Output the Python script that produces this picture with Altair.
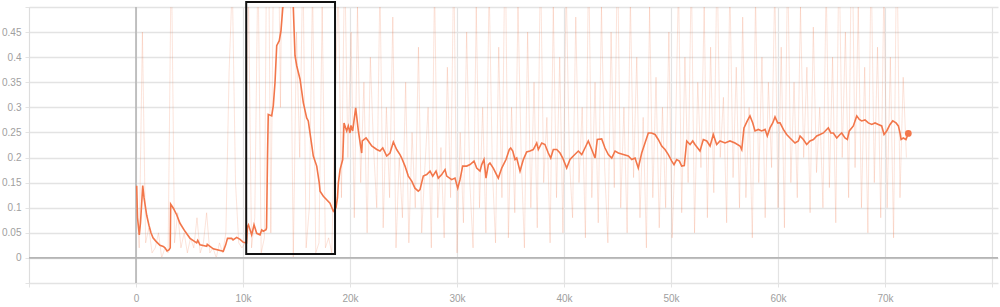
import altair as alt
import pandas as pd

# ---- data ----
smooth_k = [0.065, 0.14, 0.31, 0.42, 0.63, 0.75, 1.00, 1.21, 1.40, 1.59, 1.87, 2.24, 2.55, 2.71, 2.90, 3.08, 3.20,
            3.24, 3.49, 3.80, 4.11, 4.58, 5.05, 5.67, 5.77, 5.98, 6.61, 6.66, 7.22, 8.16, 8.38, 8.55, 8.94, 9.07,
            9.41, 9.72, 10.03, 10.33, 10.42, 10.51, 10.81, 11.03, 11.28, 11.59, 11.75, 11.90, 12.15, 12.20, 12.29,
            12.36, 12.68, 12.83, 12.99, 13.15, 13.39, 13.55, 13.71, 14.02, 14.39, 14.70, 14.86, 15.02, 15.33, 15.64,
            15.95, 16.10, 16.26, 16.57, 16.89, 17.13, 17.20, 17.51, 17.82, 18.13, 18.44, 18.69, 18.83, 18.91, 19.07,
            19.32, 19.44, 19.69, 19.84, 20.00, 20.09, 20.25, 20.53, 20.78, 21.09, 21.15, 21.50, 21.71, 22.03, 22.50,
            22.80, 23.06, 23.43, 23.74, 24.05, 24.36, 24.67, 24.83, 25.14, 25.45, 25.77, 26.07, 26.38, 26.54, 26.85,
            27.17, 27.48, 27.73, 28.04, 28.25, 28.57, 28.88, 29.04, 29.50, 29.81, 30.07, 30.28, 30.53, 30.91, 31.22,
            31.59, 31.84, 32.15, 32.31, 32.52, 32.71, 32.93, 33.08, 33.39, 33.86, 34.18, 34.58, 34.89, 35.02, 35.21,
            35.42, 35.58, 35.89, 36.20, 36.51, 36.82, 37.13, 37.45, 37.60, 37.92, 38.22, 38.53, 38.76, 39.00, 39.32,
            39.63, 39.88, 40.25, 40.56, 40.87, 41.34, 41.66, 41.96, 42.27, 42.59, 42.90, 43.11, 43.52, 43.83, 44.14,
            44.46, 44.77, 45.08, 45.54, 46.01, 46.33, 46.64, 46.94, 47.26, 47.57, 47.88, 48.18, 48.51, 48.81, 49.13,
            49.44, 49.75, 50.07, 50.28, 50.53, 50.78, 51.00, 51.24, 51.47, 51.78, 52.03, 52.24, 52.71, 53.02, 53.34,
            53.65, 53.95, 54.27, 54.58, 55.05, 55.51, 55.98, 56.45, 56.61, 56.82, 57.13, 57.38, 57.64, 57.85, 58.16,
            58.48, 58.79, 59.00, 59.25, 59.51, 59.72, 59.97, 60.19, 60.50, 60.81, 61.12, 61.59, 61.90, 62.06, 62.37,
            62.68, 62.99, 63.31, 63.62, 63.93, 64.24, 64.55, 64.70, 64.93, 65.17, 65.49, 65.79, 65.95, 66.26, 66.48,
            66.66, 67.04, 67.36, 67.60, 67.82, 68.13, 68.44, 68.76, 69.07, 69.38, 69.69, 69.91, 70.16, 70.47, 70.72,
            71.03, 71.25, 71.40, 71.50, 71.71, 71.96, 72.18]
smooth_v = [0.144, 0.080, 0.046, 0.070, 0.144, 0.120, 0.085, 0.065, 0.050, 0.040, 0.033, 0.025, 0.023, 0.020, 0.014, 0.016, 0.020,
            0.107, 0.099, 0.086, 0.069, 0.053, 0.039, 0.030, 0.035, 0.026, 0.023, 0.027, 0.018, 0.013, 0.026, 0.039, 0.039, 0.036,
            0.041, 0.037, 0.031, 0.030, 0.062, 0.066, 0.046, 0.066, 0.049, 0.046, 0.056, 0.053, 0.056, 0.060, 0.200,
            0.286, 0.283, 0.303, 0.349, 0.423, 0.433, 0.453, 0.496, 0.550, 0.560, 0.500, 0.403, 0.383, 0.356, 0.309,
            0.279, 0.273, 0.249, 0.203, 0.183, 0.149, 0.133, 0.123, 0.116, 0.109, 0.093, 0.100, 0.120, 0.149, 0.176,
            0.196, 0.269, 0.253, 0.263, 0.249, 0.264, 0.253, 0.299, 0.253, 0.209, 0.233, 0.239, 0.233, 0.223, 0.216,
            0.213, 0.219, 0.203, 0.209, 0.231, 0.216, 0.206, 0.199, 0.183, 0.163, 0.153, 0.139, 0.133, 0.136, 0.163,
            0.166, 0.173, 0.163, 0.173, 0.159, 0.166, 0.176, 0.163, 0.156, 0.159, 0.139, 0.156, 0.183, 0.183, 0.186,
            0.193, 0.179, 0.173, 0.186, 0.196, 0.159, 0.186, 0.189, 0.179, 0.159, 0.179, 0.196, 0.216, 0.219, 0.213,
            0.196, 0.199, 0.173, 0.196, 0.211, 0.213, 0.216, 0.229, 0.216, 0.229, 0.226, 0.209, 0.199, 0.216, 0.216,
            0.209, 0.199, 0.179, 0.196, 0.203, 0.213, 0.206, 0.219, 0.233, 0.216, 0.199, 0.236, 0.237, 0.219, 0.206,
            0.199, 0.213, 0.209, 0.206, 0.203, 0.196, 0.199, 0.179, 0.209, 0.229, 0.249, 0.249, 0.246, 0.236, 0.223,
            0.216, 0.206, 0.193, 0.186, 0.196, 0.193, 0.183, 0.184, 0.233, 0.226, 0.233, 0.226, 0.213, 0.236, 0.233,
            0.223, 0.246, 0.226, 0.233, 0.229, 0.233, 0.229, 0.223, 0.216, 0.259, 0.273, 0.283, 0.269, 0.253, 0.256,
            0.253, 0.256, 0.243, 0.259, 0.269, 0.281, 0.269, 0.269, 0.256, 0.246, 0.239, 0.229, 0.233, 0.243, 0.236,
            0.226, 0.233, 0.236, 0.243, 0.246, 0.249, 0.256, 0.259, 0.249, 0.249, 0.239, 0.246, 0.249, 0.239, 0.236,
            0.253, 0.263, 0.283, 0.276, 0.273, 0.275, 0.269, 0.266, 0.269, 0.266, 0.263, 0.246, 0.253, 0.266, 0.273,
            0.269, 0.263, 0.249, 0.236, 0.239, 0.236, 0.248]

raw_interval = 300  # logging interval (steps)
raw_v = [
    # 0 - 9.9k
    0.14, 0.02, 0.45, 0.03, 0.06, 0.01, 0.02, 0.05, 0.00, 0.02, 0.01, 0.62, 0.03, 0.09, 0.02, 0.05, 0.01,
    0.04, 0.02, 0.08, 0.01, 0.03, 0.09, 0.01, 0.02, 0.00, 0.03, 0.01, 0.05, 0.37, 0.55, 0.15, 0.03, 0.02,
    # 10.2k - 18.3k
    0.03, 0.55, 0.02, 0.08, 0.60, 0.01, 0.04, 0.90, 0.05, 0.70, 0.85, 0.30, 0.95, 0.80, 0.60, 0.00, 0.45,
    0.20, 0.60, 0.02, 0.10, 0.55, 0.01, 0.03, 0.50, 0.02, 0.04, 0.01,
    # 18.6k - 72k
    0.30, 0.55, 0.12, 0.60, 0.20, 0.45, 0.08, 0.50, 0.15, 0.35, 0.05, 0.40, 0.22, 0.10, 0.55, 0.06, 0.30,
    0.12, 0.48, 0.02, 0.20, 0.08, 0.35, 0.03, 0.25, 0.10, 0.42, 0.05, 0.18, 0.30, 0.02, 0.55, 0.08, 0.22,
    0.04, 0.38, 0.12, 0.60, 0.01, 0.25, 0.07, 0.45, 0.15, 0.02, 0.50, 0.10, 0.30, 0.05, 0.55, 0.18, 0.03,
    0.42, 0.12, 0.65, 0.04, 0.30, 0.09, 0.50, 0.20, 0.02, 0.45, 0.10, 0.35, 0.06, 0.60, 0.15, 0.28, 0.03,
    0.50, 0.12, 0.40, 0.05, 0.55, 0.20, 0.08, 0.48, 0.15, 0.30, 0.04, 0.60, 0.12, 0.35, 0.07, 0.50, 0.18,
    0.03, 0.45, 0.14, 0.62, 0.10, 0.30, 0.05, 0.52, 0.16, 0.40, 0.08, 0.28, 0.02, 0.50, 0.12, 0.36, 0.06,
    0.30, 0.10, 0.45, 0.04, 0.22, 0.55, 0.09, 0.40, 0.15, 0.58, 0.05, 0.35, 0.18, 0.50, 0.08, 0.42, 0.13,
    0.60, 0.20, 0.32, 0.07, 0.55, 0.16, 0.38, 0.10, 0.48, 0.12, 0.30, 0.04, 0.52, 0.15, 0.40, 0.08, 0.35,
    0.18, 0.55, 0.10, 0.42, 0.06, 0.60, 0.15, 0.35, 0.12, 0.50, 0.20, 0.38, 0.09, 0.46, 0.17, 0.30, 0.10,
    0.55, 0.14, 0.40, 0.07, 0.62, 0.20, 0.45, 0.12, 0.70, 0.18, 0.50, 0.10, 0.38, 0.05, 0.60, 0.15, 0.42,
    0.08, 0.55, 0.10, 0.40, 0.04, 0.65, 0.12, 0.36, 0.20,
]

box_x = [10300, 18600]
box_y = [0.008, 0.51]

y_ticks = [-0.05, 0, 0.05, 0.1, 0.15, 0.2, 0.25, 0.3, 0.35, 0.4, 0.45, 0.5]
x_ticks = [-10000, 0, 10000, 20000, 30000, 40000, 50000, 60000, 70000, 80000]

# ---- tables ----
smooth_df = pd.DataFrame({"step": [k * 1000 for k in smooth_k], "value": smooth_v})
raw_df = pd.DataFrame({"step": [i * raw_interval for i in range(len(raw_v))], "value": raw_v})
end_df = smooth_df.tail(1)
box_df = pd.DataFrame({"step": [box_x[0]], "x2": [box_x[1]], "value": [box_y[0]], "y2": [box_y[1]]})
zero_df = pd.DataFrame({"step": [0], "value": [0]})

ORANGE = "#f2764a"
FONT = "Liberation Sans"

xscale = alt.Scale(domain=[-10000, 80560], nice=False, zero=False)
yscale = alt.Scale(domain=[-0.05, 0.5], nice=False, zero=False)

xaxis = alt.Axis(values=x_ticks, title=None, grid=True, gridColor="#e3e3e3", gridWidth=1.2,
                 domain=False, ticks=True, tickColor="#e3e3e3", tickSize=4, labelColor="#a0a0a0",
                 labelFont=FONT, labelFontSize=10, labelPadding=6, labelOverlap=False,
                 labelExpr="datum.value < -1 || datum.value > 75000 ? '' : format(datum.value, '~s')")
yaxis = alt.Axis(values=y_ticks, title=None, grid=True, gridColor="#e3e3e3", gridWidth=1.5,
                 domain=True, domainColor="#dddddd", ticks=True, tickColor="#e3e3e3", tickSize=4,
                 labelColor="#a0a0a0", labelFont=FONT, labelFontSize=10, labelPadding=4,
                 labelOverlap=False, labelFlush=False, labelBound=False,
                 labelExpr="datum.value < -0.01 || datum.value > 0.47 ? '' : format(datum.value, '~g')")

X = alt.X("step:Q", scale=xscale, axis=xaxis)
Y = alt.Y("value:Q", scale=yscale, axis=yaxis)

raw_line = alt.Chart(raw_df).mark_line(color=ORANGE, opacity=0.2, strokeWidth=1, clip=True).encode(x=X, y=Y)

zero_h = alt.Chart(zero_df).mark_rule(color="#b5b5b5", strokeWidth=1.6).encode(y=Y)
zero_v = alt.Chart(zero_df).mark_rule(color="#b5b5b5", strokeWidth=1.6).encode(x=X)

smooth_line = alt.Chart(smooth_df).mark_line(color=ORANGE, strokeWidth=1.6, clip=True).encode(x=X, y=Y)

end_dot = alt.Chart(end_df).mark_circle(color=ORANGE, size=45, opacity=1).encode(x=X, y=Y)

box = alt.Chart(box_df).mark_rect(fill=None, fillOpacity=0, stroke="#111111", strokeWidth=2).encode(
    x=X, x2="x2:Q", y=Y, y2="y2:Q")

chart = alt.layer(raw_line, zero_h, zero_v, smooth_line, end_dot, box).properties(
    width=969, height=276,
    padding={"left": 29, "top": 7, "right": 2, "bottom": 24},
    autosize=alt.AutoSizeParams(type="none"),
    background="white",
).configure_view(stroke=None)

chart.save("out.html", embed_options={"renderer": "svg", "actions": False})
